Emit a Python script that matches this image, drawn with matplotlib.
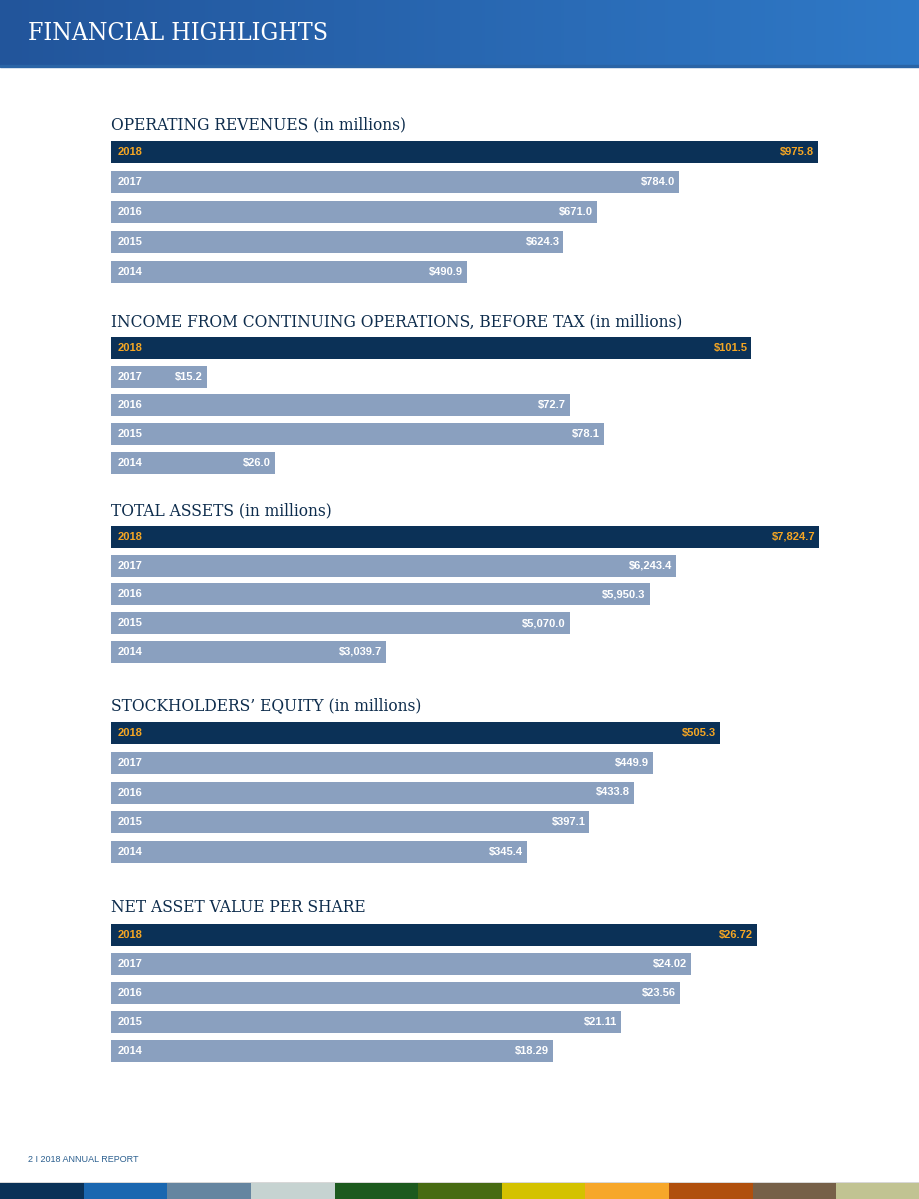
import numpy as np
import matplotlib
matplotlib.use("Agg")
import matplotlib.pyplot as plt
from matplotlib.patches import Rectangle

W, H = 920, 1199

# ---------------- data ----------------
years = ["2018", "2017", "2016", "2015", "2014"]
titles = [
    "OPERATING REVENUES (in millions)",
    "INCOME FROM CONTINUING OPERATIONS, BEFORE TAX (in millions)",
    "TOTAL ASSETS (in millions)",
    "STOCKHOLDERS\u2019 EQUITY (in millions)",
    "NET ASSET VALUE PER SHARE",
]
revenues = [975.8, 784.0, 671.0, 624.3, 490.9]
income = [101.5, 15.2, 72.7, 78.1, 26.0]
assets = [7824.7, 6243.4, 5950.3, 5070.0, 3039.7]
equity = [505.3, 449.9, 433.8, 397.1, 345.4]
nav = [26.72, 24.02, 23.56, 21.11, 18.29]
label_fmt = ["${:,.1f}", "${:,.1f}", "${:,.1f}", "${:,.1f}", "${:,.2f}"]

# ---------------- layout (pixels) ----------------
BAR_X0, BAR_W = 111, 708
xmax = [977.0, 112.2, 7823.0, 587.6, 29.3]          # value at right edge of axes
first_bar = [152, 348, 537, 733, 935]               # centre of 2018 bar
step = [30, 28.75, 28.75, 29.75, 29]
title_y = [125, 322, 511, 706, 908]
BAR_PX = 22

DARK = "#0b3157"
LIGHT = "#8aa0bf"
ORANGE = "#f5a623"
TITLE_C = "#0d2c4c"
SERIF = ["DejaVu Serif"]
COND = ["Liberation Sans Narrow", "Liberation Sans", "DejaVu Sans"]

fig = plt.figure(figsize=(W / 100, H / 100), dpi=100)
bg = fig.add_axes([0, 0, 1, 1])
bg.set_xlim(0, W)
bg.set_ylim(H, 0)
bg.axis("off")

# header gradient
grad = np.linspace(0, 1, 256).reshape(1, -1)
c0, c1 = np.array([0x22, 0x55, 0x9b]) / 255, np.array([0x2f, 0x79, 0xc7]) / 255
img = c0[None, None, :] * (1 - grad[..., None]) + c1[None, None, :] * grad[..., None]
bg.imshow(img, extent=[0, W, 66, 0], aspect="auto", zorder=0)
bg.add_patch(Rectangle((0, 65), W, 2, color="#2a64a6", zorder=1))
bg.text(28, 33, "FINANCIAL HIGHLIGHTS", color="white", fontsize=17.8,
        family=SERIF, fontstretch="condensed", va="center", ha="left")

# footer
bg.text(28, 1160, "2 I 2018 ANNUAL REPORT", color="#2b5f8f", fontsize=6.5,
        family=COND, va="center", ha="left")
strip = ["#0a3157", "#1a67b0", "#6585a0", "#c6d3d1", "#1c5a1e", "#476b12",
         "#d4c200", "#f7a72a", "#b04f0d", "#766048", "#c1c392"]
sw = W / len(strip)
for i, c in enumerate(strip):
    bg.add_patch(Rectangle((i * sw, 1183), sw + 0.5, 16, color=c, lw=0))
bg.add_patch(Rectangle((0, 1182), W, 1.2, color="#d8d8d8", lw=0))

# panels
series = [revenues, income, assets, equity, nav]
for k, vals in enumerate(series):
    bg.text(BAR_X0, title_y[k], titles[k], color=TITLE_C, fontsize=12.4,
            family=SERIF, fontstretch="condensed", va="center", ha="left")
    top = first_bar[k] - step[k] / 2
    bot = first_bar[k] + step[k] * 4.5
    ax = fig.add_axes([BAR_X0 / W, 1 - bot / H, BAR_W / W, (bot - top) / H])
    ax.set_xlim(0, xmax[k])
    ax.set_ylim(4.5, -0.5)
    ax.axis("off")
    ypos = np.arange(len(years))
    colors = [DARK] + [LIGHT] * (len(years) - 1)
    ax.barh(ypos, vals, height=BAR_PX / step[k], color=colors, lw=0)
    pad = 4 * xmax[k] / BAR_W
    for i, (yr, v) in enumerate(zip(years, vals)):
        tc = ORANGE if i == 0 else "white"
        ax.text(7 * xmax[k] / BAR_W, i, yr, color=tc, fontsize=8,
                fontweight="bold", family=COND, va="center", ha="left")
        ax.text(v - pad, i, label_fmt[k].format(v), color=tc, fontsize=8,
                fontweight="bold", family=COND, va="center", ha="right")

fig.savefig("out.png", dpi=100)
